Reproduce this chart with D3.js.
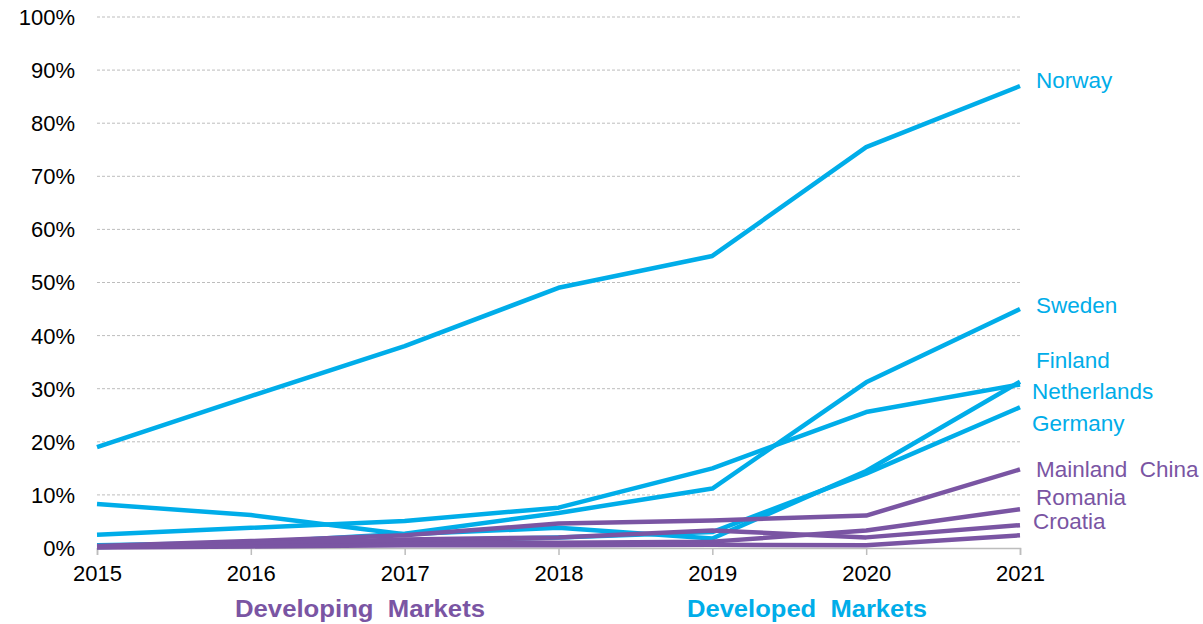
<!DOCTYPE html>
<html>
<head>
<meta charset="utf-8">
<script src="https://cdn.jsdelivr.net/npm/d3@7"></script>
<style>
  body { margin: 0; background: #fff; }
  svg { display: block; font-family: "Liberation Sans", Arial, sans-serif; }
</style>
</head>
<body>
<svg id="chart" width="1203" height="624"></svg>
<script>
// years on the x axis
const years = [2015, 2016, 2017, 2018, 2019, 2020, 2021];
const yTicks = [0, 10, 20, 30, 40, 50, 60, 70, 80, 90, 100];

// developed markets (share, %)
const norway      = [19.0, 28.6, 38.0, 49.0, 55.0, 75.5, 87.0];
const sweden      = [0.5, 1.0, 2.7, 6.6, 11.2, 31.2, 45.0];
const finland     = [8.3, 6.2, 2.6, 3.8, 1.8, 14.5, 31.3];
const netherlands = [2.5, 3.8, 5.1, 7.6, 15.0, 25.6, 30.8];
const germany     = [0.2, 0.5, 1.4, 2.0, 3.0, 14.0, 26.5];

// developing markets (share, %)
const china   = [0.4, 1.3, 2.4, 4.6, 5.2, 6.1, 14.8];
const romania = [0.2, 0.6, 1.2, 1.0, 1.2, 3.3, 7.3];
const croatia = [0.3, 0.8, 1.6, 2.0, 3.3, 2.0, 4.3];
const other   = [0.1, 0.3, 0.5, 0.5, 0.6, 0.5, 2.4];

const BLUE = '#00ade9';
const PURPLE = '#7a55a3';

const series = [
    { name: 'Norway', values: norway, color: BLUE },
    { name: 'Sweden', values: sweden, color: BLUE },
    { name: 'Finland', values: finland, color: BLUE },
    { name: 'Netherlands', values: netherlands, color: BLUE },
    { name: 'Germany', values: germany, color: BLUE },
    { name: 'Mainland China', values: china, color: PURPLE },
    { name: 'Romania', values: romania, color: PURPLE },
    { name: 'Croatia', values: croatia, color: PURPLE },
    { name: 'Other', values: other, color: PURPLE },
];

// end labels: text and the level (in %) they sit at
const endLabels = [
    { text: 'Norway', level: 88.1, dx: 16, color: BLUE },
    { text: 'Sweden', level: 45.8, dx: 16, color: BLUE },
    { text: 'Finland', level: 35.4, dx: 16, color: BLUE },
    { text: 'Netherlands', level: 29.6, dx: 12, color: BLUE },
    { text: 'Germany', level: 23.5, dx: 12, color: BLUE },
    { text: 'Mainland  China', level: 14.9, dx: 16, color: PURPLE },
    { text: 'Romania', level: 9.6, dx: 16, color: PURPLE },
    { text: 'Croatia', level: 5.1, dx: 13, color: PURPLE },
];

const margin = { top: 17, right: 183, bottom: 76, left: 97 };
const width = 1203, height = 624;
const innerW = width - margin.left - margin.right;
const innerH = height - margin.top - margin.bottom;

const svg = d3.select('#chart');
const g = svg.append('g').attr('transform', `translate(${margin.left},${margin.top})`);

const x = d3.scaleLinear().domain([2015, 2021]).range([0, innerW]);
const y = d3.scaleLinear().domain([0, 100]).range([innerH, 0]);

// dashed gridlines
g.append('g')
    .selectAll('line')
    .data(yTicks.filter(d => d > 0))
    .enter().append('line')
    .attr('x1', 0).attr('x2', innerW)
    .attr('y1', d => y(d)).attr('y2', d => y(d))
    .style('stroke', '#bdbdbd')
    .style('stroke-width', 1)
    .style('stroke-dasharray', '3,2');

// y tick labels
g.append('g')
    .selectAll('text')
    .data(yTicks)
    .enter().append('text')
    .attr('x', -22)
    .attr('y', d => y(d))
    .attr('dy', '0.36em')
    .attr('text-anchor', 'end')
    .style('font-size', '22px')
    .style('fill', '#000')
    .text(d => d + '%');

// x axis
const xAxis = g.append('g')
    .attr('transform', `translate(0,${innerH})`)
    .call(d3.axisBottom(x).tickValues(years).tickFormat(d3.format('d')).tickSize(7).tickPadding(10));
xAxis.select('.domain').style('stroke', '#bdbdbd').style('stroke-width', 1.5);
xAxis.selectAll('.tick line').style('stroke', '#bdbdbd').style('stroke-width', 1.5);
xAxis.selectAll('.tick text')
    .style('font-size', '22px')
    .style('font-family', '"Liberation Sans", Arial, sans-serif')
    .style('fill', '#000');

// lines
const line = d3.line()
    .x((d, i) => x(years[i]))
    .y(d => y(d));

g.append('g')
    .selectAll('path')
    .data(series)
    .enter().append('path')
    .attr('d', d => line(d.values))
    .style('fill', 'none')
    .style('stroke', d => d.color)
    .style('stroke-width', 4.5)
    .style('stroke-linejoin', 'round');

// end labels
g.append('g')
    .selectAll('text')
    .data(endLabels)
    .enter().append('text')
    .attr('x', d => innerW + d.dx)
    .attr('y', d => y(d.level))
    .attr('dy', '0.36em')
    .style('white-space', 'pre')
    .style('font-size', '22.5px')
    .style('fill', d => d.color)
    .text(d => d.text);

// market group labels
const groups = [
    { text: 'Developing  Markets', cx: 360, w: 250, color: PURPLE },
    { text: 'Developed  Markets', cx: 807, w: 240, color: BLUE },
];
svg.append('g')
    .selectAll('text')
    .data(groups)
    .enter().append('text')
    .attr('x', d => d.cx - d.w / 2)
    .attr('y', 617)
    .attr('textLength', d => d.w)
    .attr('lengthAdjust', 'spacingAndGlyphs')
    .style('white-space', 'pre')
    .style('font-size', '24px')
    .style('font-weight', 'bold')
    .style('fill', d => d.color)
    .text(d => d.text);
</script>
</body>
</html>
